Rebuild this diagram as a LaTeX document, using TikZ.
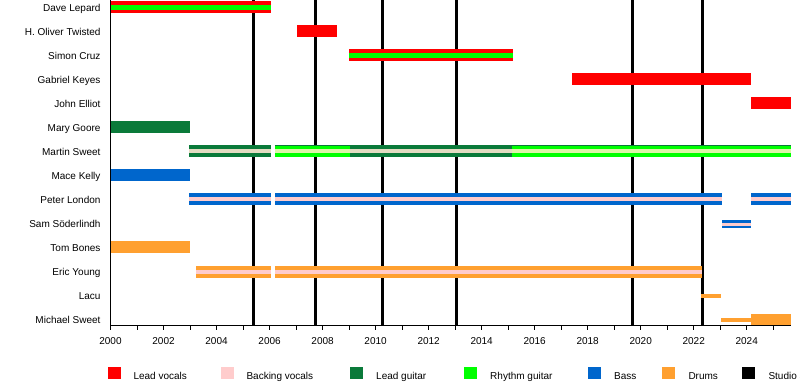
\documentclass[tikz,border=0pt]{standalone}
\usepackage{fontspec}
\setmainfont{Liberation Sans}
\definecolor{leadvoc}{HTML}{FF0000}
\definecolor{backvoc}{HTML}{FFCCCC}
\definecolor{leadgtr}{HTML}{0A7A3A}
\definecolor{rhygtr}{HTML}{00FF00}
\definecolor{bassc}{HTML}{0066CC}
\definecolor{drumsc}{HTML}{FFA030}
\definecolor{beigestripe}{HTML}{E3DCC2}
\definecolor{palegreen}{HTML}{DDF5A8}
\newcommand\tlbar[4]{\fill[#1] (#2,{#4-6}) rectangle (#3,{#4+6});}
\newcommand\tlstripe[4]{\fill[#1] (#2,{#4-2}) rectangle (#3,{#4+2});}
\begin{document}
\begin{tikzpicture}[x=1bp,y=-1bp,font=\fontsize{10bp}{12bp}\selectfont,
  namelab/.style={anchor=base east},
  yearlab/.style={anchor=base},
  leglab/.style={anchor=base west},
  album/.style={line width=3bp,black}]
\useasboundingbox (0,0) rectangle (800,385);
\clip (0,0) rectangle (800,385);
% studio album lines
\foreach \x in {253,315.7,382.7,456.7,632.7,702.7} \draw[album] (\x,0) -- (\x,325);
% names
\node[namelab] (n0) at (104,11) {Dave Lepard};
\node[namelab] (n1) at (104,35) {H. Oliver Twisted};
\node[namelab] (n2) at (104,59) {Simon Cruz};
\node[namelab] (n3) at (104,83) {Gabriel Keyes};
\node[namelab] (n4) at (104,107) {John Elliot};
\node[namelab] (n5) at (104,131) {Mary Goore};
\node[namelab] (n6) at (104,155) {Martin Sweet};
\node[namelab] (n7) at (104,179) {Mace Kelly};
\node[namelab] (n8) at (104,203) {Peter London};
\node[namelab] (n9) at (104,227) {Sam Söderlindh};
\node[namelab] (n10) at (104,251) {Tom Bones};
\node[namelab] (n11) at (104,275) {Eric Young};
\node[namelab] (n12) at (104,299) {Lacu};
\node[namelab] (n13) at (104,323) {Michael Sweet};
% Dave Lepard
\tlbar{leadvoc}{110.5}{271}{7}
\fill[rhygtr] (110.5,4.5) rectangle (271,9.5);
% H. Oliver Twisted
\tlbar{leadvoc}{297}{337}{31}
% Simon Cruz
\tlbar{leadvoc}{349}{513}{55}
\fill[rhygtr] (349,52.5) rectangle (513,57.5);
% Gabriel Keyes
\tlbar{leadvoc}{572}{751}{79}
% John Elliot
\tlbar{leadvoc}{751}{791}{103}
% Mary Goore
\tlbar{leadgtr}{110.5}{190}{127}
% Martin Sweet
\tlbar{leadgtr}{189}{271}{151}
\tlstripe{beigestripe}{189}{271}{151}
\tlbar{leadgtr}{275}{791}{151}
\fill[rhygtr] (275,145.5) rectangle (350,156.5);
\fill[rhygtr] (512,145.5) rectangle (791,156.5);
\tlstripe{palegreen}{275}{350}{151}
\tlstripe{beigestripe}{350}{512}{151}
\tlstripe{palegreen}{512}{791}{151}
% Mace Kelly
\tlbar{bassc}{110.5}{190}{175}
% Peter London
\tlbar{bassc}{189}{271}{199}
\tlstripe{backvoc}{189}{271}{199}
\tlbar{bassc}{275}{722}{199}
\tlstripe{backvoc}{275}{722}{199}
\tlbar{bassc}{751}{791}{199}
\tlstripe{backvoc}{751}{791}{199}
% Sam Soderlindh
\fill[bassc] (722,220) rectangle (751,228);
\fill[backvoc] (722,222.5) rectangle (751,225.5);
% Tom Bones
\tlbar{drumsc}{110.5}{190}{247}
% Eric Young
\tlbar{drumsc}{196}{271}{272}
\tlstripe{backvoc}{196}{271}{272}
\tlbar{drumsc}{275}{702}{272}
\tlstripe{backvoc}{275}{702}{272}
% Lacu
\fill[drumsc] (701,293.5) rectangle (721,297.5);
% Michael Sweet
\fill[drumsc] (721,318) rectangle (751,322);
\fill[drumsc] (751,314) rectangle (791,325);
% axes
\draw[black,line width=0.8bp] (110.5,0) -- (110.5,325) -- (791,325);
\foreach \k in {0,...,25} \draw[black,line width=0.8bp] ({110.5+26.51*\k},325) -- ({110.5+26.51*\k},330);
\foreach \k/\yy in {0/2000,2/2002,4/2004,6/2006,8/2008,10/2010,12/2012,14/2014,16/2016,18/2018,20/2020,22/2022,24/2024}
  \node[yearlab] (y\yy) at ({110.5+26.51*\k},344.3) {\yy};
% legend
\fill[leadvoc] (108,366.7) rectangle (120.7,379);
\node[leglab] (l1) at (130,379) {Lead vocals};
\fill[backvoc] (221,366.7) rectangle (233.5,379);
\node[leglab] (l2) at (243,379) {Backing vocals};
\fill[leadgtr] (350,366.7) rectangle (362.7,379);
\node[leglab] (l3) at (372.7,379) {Lead guitar};
\fill[rhygtr] (464,366.7) rectangle (476.7,379);
\node[leglab] (l4) at (486.7,379) {Rhythm guitar};
\fill[bassc] (588.3,366.7) rectangle (600.7,379);
\node[leglab] (l5) at (610.7,379) {Bass};
\fill[drumsc] (662.3,366.7) rectangle (674.7,379);
\node[leglab] (l6) at (685,379) {Drums};
\fill[black] (742.3,366.7) rectangle (755,379);
\node[leglab] (l7) at (765,379) {Studio albums};
\end{tikzpicture}
\end{document}
